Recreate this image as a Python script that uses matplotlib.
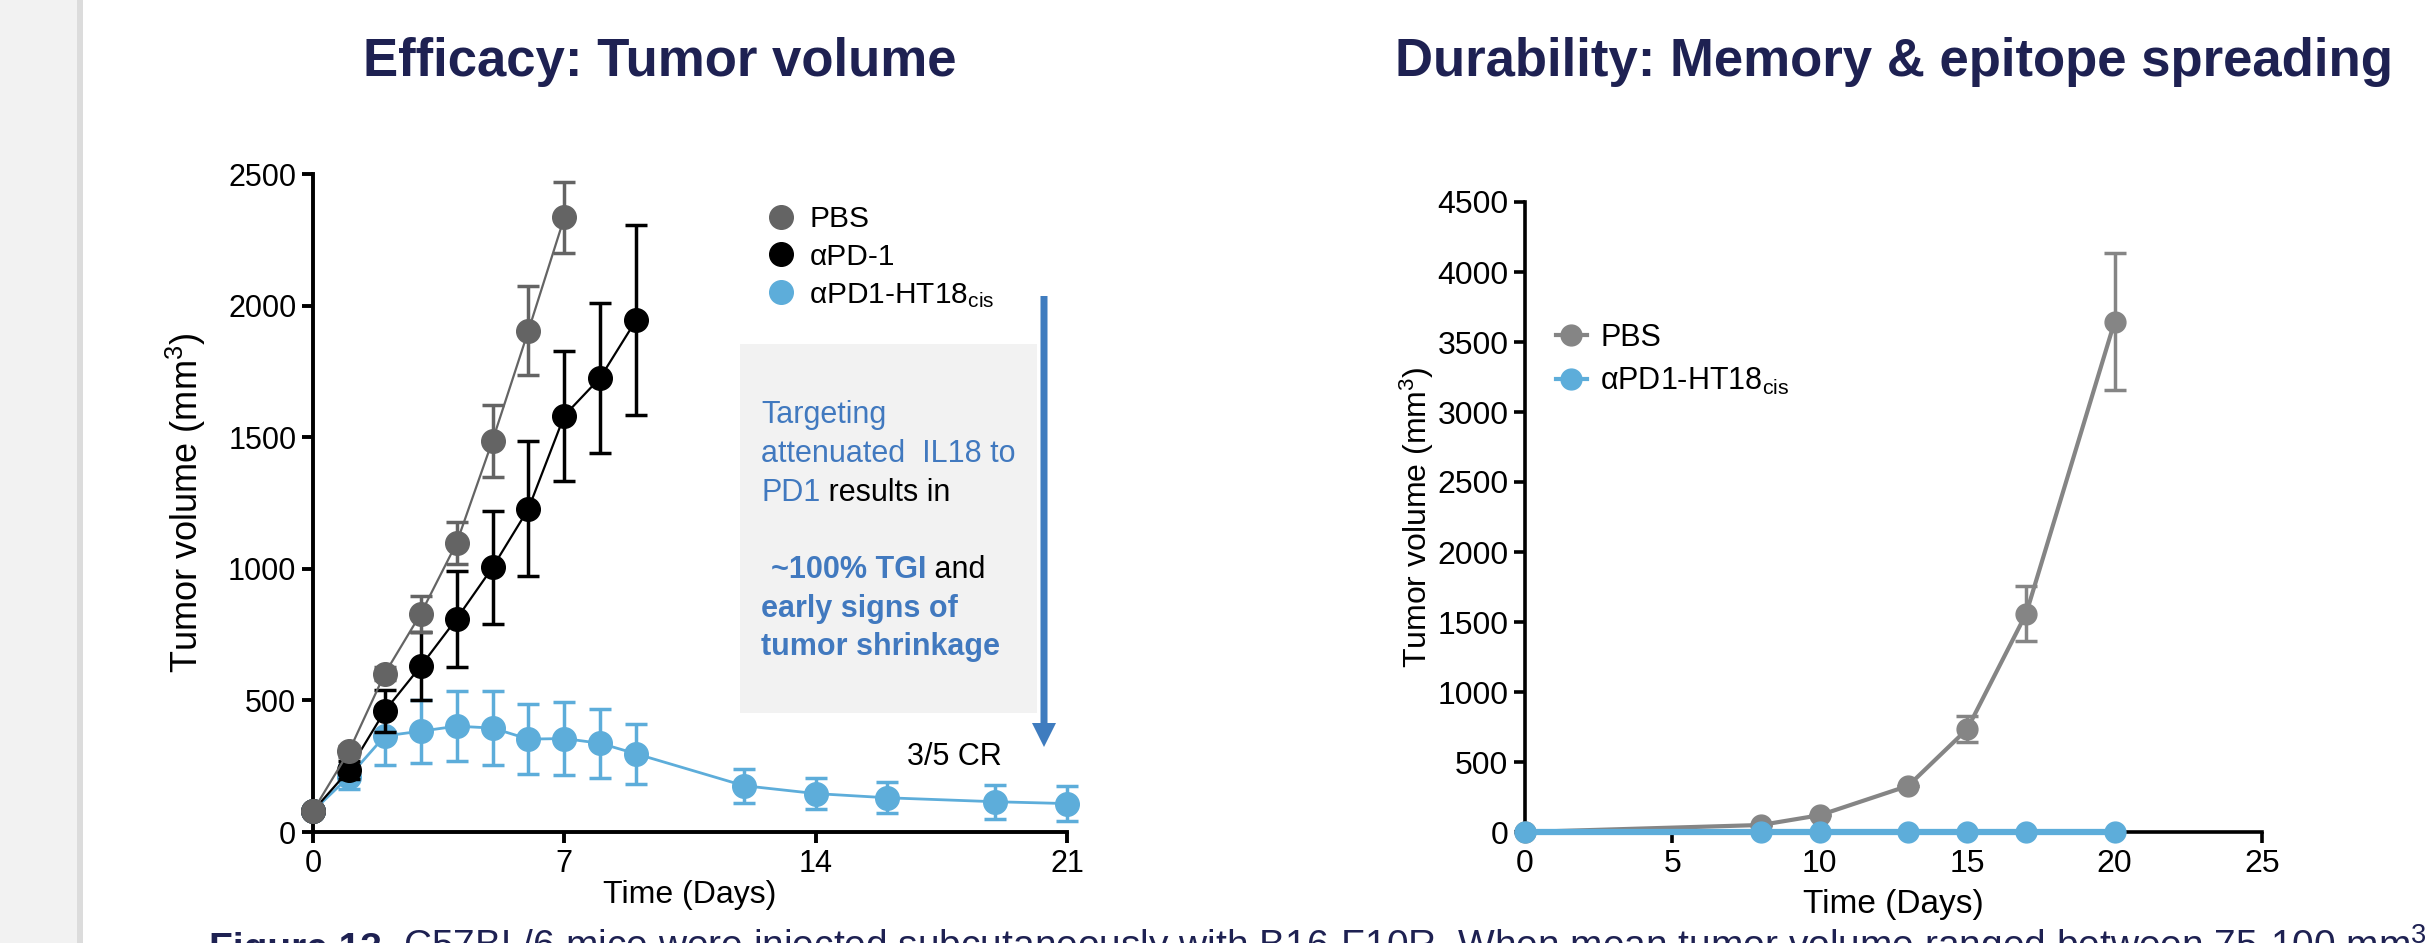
import matplotlib.pyplot as plt
from matplotlib.patches import Rectangle, FancyArrow
from matplotlib.lines import Line2D

plt.rcParams['font.family'] = ['Liberation Sans', 'DejaVu Sans']
plt.rcParams['mathtext.fontset'] = 'custom'
plt.rcParams['mathtext.rm'] = 'Liberation Sans'
plt.rcParams['mathtext.it'] = 'Liberation Sans:italic'
plt.rcParams['mathtext.bf'] = 'Liberation Sans:bold'

# --- Efficacy panel (mean +/- SEM)
pbs_days = [0, 1, 2, 3, 4, 5, 6, 7]
pbs_vol = [80, 306, 602, 829, 1098, 1487, 1905, 2335]
pbs_err = [0, 20, 25, 68, 80, 137, 170, 135]

pd1_days = [0, 1, 2, 3, 4, 5, 6, 7, 8, 9]
pd1_vol = [80, 235, 460, 630, 810, 1005, 1228, 1582, 1726, 1945]
pd1_err = [0, 35, 80, 130, 182, 215, 257, 247, 285, 362]

ht_days = [0, 1, 2, 3, 4, 5, 6, 7, 8, 9, 12, 14, 16, 19, 21]
ht_vol = [80, 210, 365, 383, 402, 395, 353, 355, 337, 297, 176, 146, 130, 115, 108]
ht_err = [0, 45, 110, 120, 132, 140, 132, 138, 130, 115, 65, 60, 59, 64, 68]

# --- Durability panel (rechallenge)
mem_days = [0, 8, 10, 13, 15, 17, 20]
mem_pbs = [0, 50, 120, 330, 735, 1560, 3645]
mem_pbs_err = [0, 0, 0, 0, 95, 195, 490]
mem_ht = [0, 0, 0, 0, 0, 0, 0]

eff_xticks = [0, 7, 14, 21]
eff_yticks = [0, 500, 1000, 1500, 2000, 2500]
mem_xticks = [0, 5, 10, 15, 20, 25]
mem_yticks = list(range(0, 4501, 500))

GRAY_L = '#646464'
GRAY_R = '#858585'
BLUE = '#5dadda'
TXT_BLUE = '#4179bf'
NAVY = '#1e2152'

W, H = 2433, 943
fig = plt.figure(figsize=(W / 100, H / 100), dpi=100)

def fx(px):
    return px / W

def fy(py):
    return (H - py) / H

# page background strip on the left
fig.add_artist(Rectangle((0, 0), fx(77), 1, transform=fig.transFigure,
                         color='#f2f2f2', lw=0, zorder=-2))
fig.add_artist(Rectangle((fx(77), 0), fx(6), 1, transform=fig.transFigure,
                         color='#dcdcdc', lw=0, zorder=-2))

def style_axes(ax, lw, fs):
    for s in ['top', 'right']:
        ax.spines[s].set_visible(False)
    for s in ['left', 'bottom']:
        ax.spines[s].set_linewidth(lw)
    ax.tick_params(direction='out', length=8, width=lw, labelsize=fs, pad=4)
    ax.patch.set_alpha(0)

# ---------------- left panel
ax1 = fig.add_axes([fx(313), fy(832), fx(1067 - 313), (832 - 174) / H])
ax1.set_xlim(0, 21)
ax1.set_ylim(0, 2500)
style_axes(ax1, 2.8, 22)
ax1.set_xticks(eff_xticks)
ax1.set_yticks(eff_yticks)

ms = 17
ax1.errorbar(ht_days, ht_vol, yerr=ht_err, color=BLUE, marker='o', ms=ms, lw=2,
             elinewidth=2.5, capsize=8, capthick=2.5, clip_on=False, zorder=3)
ax1.errorbar(pd1_days, pd1_vol, yerr=pd1_err, color='black', marker='o', ms=ms, lw=1.6,
             elinewidth=2.5, capsize=8, capthick=2.5, clip_on=False, zorder=4)
ax1.errorbar(pbs_days, pbs_vol, yerr=pbs_err, color=GRAY_L, marker='o', ms=ms, lw=1.6,
             elinewidth=2.5, capsize=8, capthick=2.5, clip_on=False, zorder=5)

ax1.set_xlabel('Time (Days)', fontsize=23)
ax1.set_ylabel('Tumor volume (mm$^3$)', fontsize=26)
ax1.xaxis.set_label_coords(0.5, (832 - 895) / (832 - 174))
ax1.xaxis.label.set_va('center')
ax1.yaxis.set_label_coords((186 - 313) / (1067 - 313), 0.5)
ax1.yaxis.label.set_va('center')

leg_handles = [
    Line2D([], [], ls='none', marker='o', ms=ms, color=GRAY_L),
    Line2D([], [], ls='none', marker='o', ms=ms, color='black'),
    Line2D([], [], ls='none', marker='o', ms=ms, color=BLUE),
]
ax1.legend(leg_handles, ['PBS', 'αPD-1', r'αPD1-HT18$_{\mathrm{cis}}$'],
           loc='upper left', bbox_to_anchor=(fx(766), fy(205)), bbox_transform=fig.transFigure,
           frameon=False, fontsize=21.5, borderpad=0, borderaxespad=0,
           handlelength=1.0, handletextpad=0.45, labelspacing=0.33, numpoints=1)

# annotation box + arrow
fig.add_artist(Rectangle((fx(740), fy(713)), fx(1037 - 740), (713 - 344) / H,
                         transform=fig.transFigure, color='#f2f2f2', lw=0, zorder=-1))
fig.add_artist(FancyArrow(fx(1044), fy(296), 0, -(747 - 296 - 24) / H, width=fx(7),
                          head_width=fx(24), head_length=24 / H, length_includes_head=False,
                          transform=fig.transFigure, color='#3f7cbf', lw=0, zorder=2))

BOX_FS = 22
box_lines = [
    (423, 761, [('Targeting', TXT_BLUE, 'normal')]),
    (462, 761, [('attenuated  IL18 to', TXT_BLUE, 'normal')]),
    (501, 761, [('PD1', TXT_BLUE, 'normal'), (' results in', 'black', 'normal')]),
    (578, 771, [('~100% TGI', TXT_BLUE, 'bold'), (' and', 'black', 'normal')]),
    (617, 761, [('early signs of', TXT_BLUE, 'bold')]),
    (655, 761, [('tumor shrinkage', TXT_BLUE, 'bold')]),
]
for yb, xl, parts in box_lines:
    prev = None
    for txt, col, wt in parts:
        if prev is None:
            prev = ax1.annotate(txt, xy=(fx(xl), fy(yb)), xycoords='figure fraction',
                                va='baseline', ha='left', fontsize=BOX_FS, color=col,
                                fontweight=wt, annotation_clip=False, zorder=6)
        else:
            prev = ax1.annotate(txt, xy=(1, 0), xycoords=prev, va='bottom', ha='left',
                                fontsize=BOX_FS, color=col, fontweight=wt,
                                annotation_clip=False, zorder=6)

fig.text(fx(907), fy(765), '3/5 CR', fontsize=22, va='baseline', ha='left')

# ---------------- right panel
ax2 = fig.add_axes([fx(1525), fy(832), fx(2262 - 1525), (832 - 202) / H])
ax2.set_xlim(0, 25)
ax2.set_ylim(0, 4500)
style_axes(ax2, 2.6, 23)
ax2.set_xticks(mem_xticks)
ax2.set_yticks(mem_yticks)

ms2 = 15
ax2.errorbar(mem_days, mem_pbs, yerr=mem_pbs_err, color=GRAY_R, marker='o', ms=ms2, lw=3,
             elinewidth=2.5, capsize=8, capthick=2.5, clip_on=False, zorder=3)
ax2.plot(mem_days, mem_ht, color=BLUE, marker='o', ms=ms2, lw=4.5, clip_on=False, zorder=4)

ax2.set_xlabel('Time (Days)', fontsize=24)
ax2.set_ylabel('Tumor volume (mm$^3$)', fontsize=23)
ax2.xaxis.set_label_coords(0.5, (832 - 905) / (832 - 202))
ax2.xaxis.label.set_va('center')
ax2.yaxis.set_label_coords((1417 - 1525) / (2262 - 1525), 0.5)
ax2.yaxis.label.set_va('center')

leg2 = [
    Line2D([], [], marker='o', ms=ms2, color=GRAY_R, lw=3),
    Line2D([], [], marker='o', ms=ms2, color=BLUE, lw=3),
]
ax2.legend(leg2, ['PBS', r'αPD1-HT18$_{\mathrm{cis}}$'],
           loc='upper left', bbox_to_anchor=(fx(1556), fy(323)), bbox_transform=fig.transFigure,
           frameon=False, fontsize=22, borderpad=0, borderaxespad=0,
           handlelength=1.0, handletextpad=0.45, labelspacing=0.42, numpoints=1)

# ---------------- titles and caption
fig.text(fx(660), fy(76), 'Efficacy: Tumor volume', fontsize=38, fontweight='bold',
         color=NAVY, ha='center', va='baseline')
fig.text(fx(1894), fy(76), 'Durability: Memory & epitope spreading', fontsize=38,
         fontweight='bold', color=NAVY, ha='center', va='baseline')

cap = ax1.annotate('Figure 13.', xy=(fx(209), fy(960)), xycoords='figure fraction',
                   va='baseline', ha='left', fontsize=28, fontweight='bold', color=NAVY,
                   annotation_clip=False)
ax1.annotate(' C57BL/6 mice were injected subcutaneously with B16-F10R. '
             'When mean tumor volume ranged between 75-100 mm$^3$',
             xy=(1, 0), xycoords=cap, va='bottom', ha='left', fontsize=28, color=NAVY,
             annotation_clip=False)

fig.savefig('out.png', dpi=100)
